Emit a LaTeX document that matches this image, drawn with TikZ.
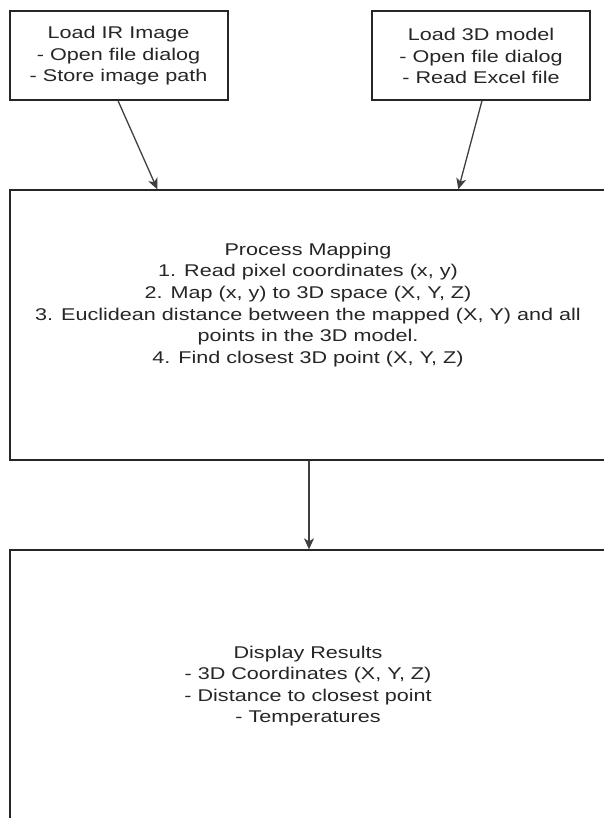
\documentclass[tikz,border=0pt]{standalone}
\usepackage{fontspec}
\setmainfont{Liberation Sans}[FakeStretch=1.27]
\usetikzlibrary{arrows.meta}
\tikzset{
  boxstyle/.style={draw=black!85, line width=1.3pt, fill=none, inner sep=0pt},
  txt/.style={text=black!85, align=center, inner sep=0pt,
    font=\fontsize{17}{21.6}\selectfont},
  conn/.style={draw=black!75, line width=1.3pt,
    -{Stealth[length=11pt,width=10pt,inset=3pt]}}
}
\begin{document}
\begin{tikzpicture}[x=1pt,y=-1pt]
\clip (0,0) rectangle (604,818);
\fill[white] (0,0) rectangle (604,818);
% top boxes
\node[boxstyle, minimum width=218pt, minimum height=89pt] (inA) at (119,55.5) {};
\node[txt] (inAtext) at (118.5,56) {Load IR Image\\- Open file dialog\\- Store image path};
\node[boxstyle, minimum width=218pt, minimum height=89pt] (inB) at (481,55.5) {};
\node[txt] (inBtext) at (481,56) {Load 3D model\\- Open file dialog\\- Read Excel file};
% process box
\node[boxstyle, minimum width=598pt, minimum height=270pt] (proc) at (309,325) {};
\node[txt] (proctext) at (308,305) {Process Mapping\\
1. Read pixel coordinates (x, y)\\
2. Map (x, y) to 3D space (X, Y, Z)\\
3. Euclidean distance between the mapped (X, Y) and all\\
points in the 3D model.\\
4. Find closest 3D point (X, Y, Z)};
% display box
\node[boxstyle, minimum width=598pt, minimum height=270pt] (disp) at (309,685) {};
\node[txt] (disptext) at (308,686) {Display Results\\
- 3D Coordinates (X, Y, Z)\\
- Distance to closest point\\
- Temperatures};
% connectors
\draw[conn] ([xshift=-1pt]inA.south) -- ([xshift=148pt]proc.north west);
\draw[conn] ([xshift=1pt]inB.south) -- ([xshift=449pt]proc.north west);
\draw[conn] (proc.south) -- (disp.north);
\end{tikzpicture}
\end{document}
